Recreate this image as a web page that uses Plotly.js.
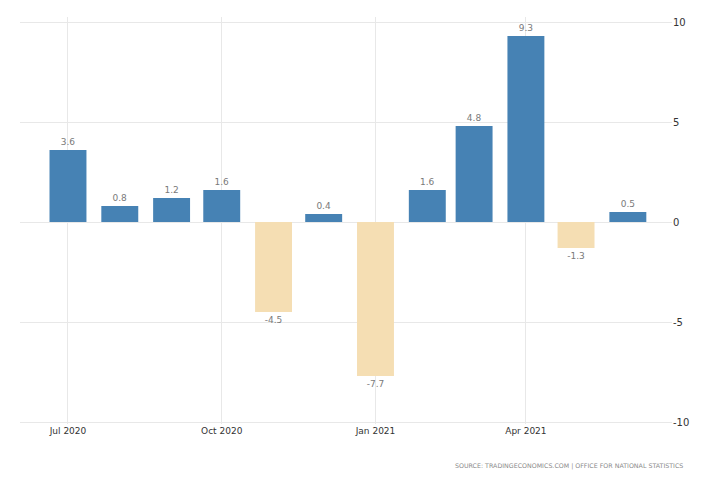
<!DOCTYPE html>
<html>
<head>
<meta charset="utf-8">
<script src="https://cdn.plot.ly/plotly-3.0.1.min.js"></script>
<style>html,body{margin:0;padding:0;background:#fff;}#chart{width:728px;height:485px;}</style>
</head>
<body>
<div id="chart"></div>
<script>
const months = ['2020-07-01','2020-08-01','2020-09-01','2020-10-01','2020-11-01','2020-12-01','2021-01-01','2021-02-01','2021-03-01','2021-04-01','2021-05-01','2021-06-01'];
const values = [3.6, 0.8, 1.2, 1.6, -4.5, 0.4, -7.7, 1.6, 4.8, 9.3, -1.3, 0.5];
const tickDates = ['2020-07-01','2020-10-01','2021-01-01','2021-04-01'];
const tickLabels = ['Jul 2020','Oct 2020','Jan 2021','Apr 2021'];
const yTicks = [-10, -5, 0, 5, 10];
const sourceText = 'SOURCE: TRADINGECONOMICS.COM | OFFICE FOR NATIONAL STATISTICS';

const colors = values.map(v => v >= 0 ? '#4682B4' : '#F5DEB3');
const DAY = 86400000;

const trace = {
  type: 'bar',
  x: months,
  y: values,
  width: 22.1 * DAY,
  marker: {color: colors, line: {width: 0}},
  text: values.map(v => v.toFixed(1)),
  textposition: 'outside',
  cliponaxis: false,
  textfont: {family: 'DejaVu Sans, Verdana, sans-serif', size: 9, color: '#7a7a7a'},
  hoverinfo: 'x+y'
};

const layout = {
  width: 728, height: 485,
  margin: {l: 20, r: 56, t: 17, b: 61},
  paper_bgcolor: '#ffffff',
  plot_bgcolor: '#ffffff',
  showlegend: false,
  font: {family: 'DejaVu Sans, Verdana, sans-serif', size: 9, color: '#333'},
  xaxis: {
    type: 'date',
    range: ['2020-06-02 07:00', '2021-06-27 10:00'],
    tickmode: 'array',
    tickvals: tickDates,
    ticktext: tickLabels,
    showgrid: true,
    gridcolor: '#e8e8e8',
    gridwidth: 1,
    zeroline: false,
    showline: false,
    ticks: '',
    tickfont: {family: 'DejaVu Sans, Verdana, sans-serif', size: 9, color: '#333'}
  },
  yaxis: {
    side: 'right',
    range: [-10.1, 10.25],
    tickmode: 'array',
    tickvals: yTicks,
    ticktext: yTicks.map(String),
    showgrid: true,
    gridcolor: '#e8e8e8',
    gridwidth: 1,
    zeroline: false,
    showline: false,
    ticks: '',
    tickfont: {family: 'DejaVu Sans, Verdana, sans-serif', size: 10, color: '#333'}
  },
  annotations: [{
    xref: 'paper', yref: 'paper',
    x: 1 + (685 - 672) / 652, y: -(466 - 424) / 407,
    xanchor: 'right', yanchor: 'middle',
    text: sourceText,
    showarrow: false,
    font: {family: 'DejaVu Sans, Verdana, sans-serif', size: 6.3, color: '#8a8a8a'}
  }]
};

Plotly.newPlot('chart', [trace], layout, {displayModeBar: false, staticPlot: true});
</script>
</body>
</html>
